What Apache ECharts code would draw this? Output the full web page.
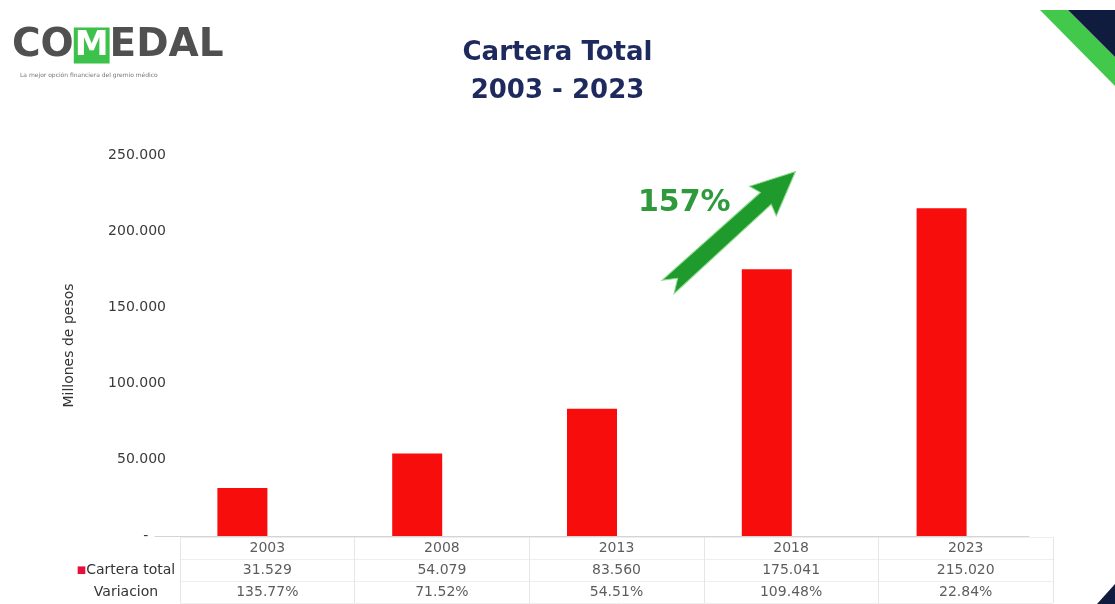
<!DOCTYPE html>
<html>
<head>
<meta charset="utf-8">
<script src="https://cdn.jsdelivr.net/npm/echarts@6/dist/echarts.min.js"></script>
<style>
html,body{margin:0;padding:0;background:#ffffff;}
#chart{width:1115px;height:604px;}
</style>
</head>
<body>
<div id="chart"></div>
<script>
const years = ['2003', '2008', '2013', '2018', '2023'];
const cartera = [31529, 54079, 83560, 175041, 215020];
const variacion = [135.77, 71.52, 54.51, 109.48, 22.84];
const rowLabels = ['', 'Cartera total', 'Variacion'];
const yMax = 250000;
const yStep = 50000;
const titleText = 'Cartera Total\n2003 - 2023';
const growthText = '157%';
const yName = 'Millones de pesos';

const fmt = n => String(n).replace(/\B(?=(\d{3})+(?!\d))/g, '.');
const FONT = 'DejaVu Sans';

const tableData = [];
years.forEach((y, i) => {
  tableData.push({ name: y, value: [i, 0] });
  tableData.push({ name: fmt(cartera[i]), value: [i, 1] });
  tableData.push({ name: variacion[i].toFixed(2) + '%', value: [i, 2] });
});

// arrow geometry (local, pointing along +x)
const L = 172;
const arrowPts = [[0,-9],[L-40,-8],[L-44,-20],[L,0],[L-44,20],[L-40,8],[0,9],[13,0]];

const chart = echarts.init(document.getElementById('chart'), null, { renderer: 'canvas' });
chart.setOption({
  animation: false,
  backgroundColor: '#ffffff',
  title: {
    text: titleText,
    left: 'center',
    top: 29,
    textStyle: { fontFamily: FONT, fontSize: 26, fontWeight: 'bold', color: '#1e2a5e', lineHeight: 38 }
  },
  grid: [
    { left: 155, right: 86, top: 155, height: 381 },
    { left: 180, right: 62, top: 537, height: 66 }
  ],
  xAxis: [
    {
      type: 'category', gridIndex: 0, data: years,
      axisLine: { lineStyle: { color: '#d4d4d4' } },
      axisTick: { show: false }, axisLabel: { show: false }
    },
    {
      type: 'category', gridIndex: 1, data: years, position: 'top',
      axisLine: { show: false },
      axisTick: { show: false }, axisLabel: { show: false },
      splitLine: { show: true, lineStyle: { color: '#e6e6e6' } }
    }
  ],
  yAxis: [
    {
      type: 'value', gridIndex: 0, min: 0, max: yMax, interval: yStep,
      splitLine: { show: false }, axisLine: { show: false }, axisTick: { show: false },
      axisLabel: {
        margin: -11, fontFamily: FONT, fontSize: 14, color: '#3a3a3a',
        formatter: v => v === 0 ? '-    ' : fmt(v)
      },
      name: yName, nameLocation: 'middle', nameRotate: 90, nameGap: 79,
      nameTextStyle: { fontFamily: FONT, fontSize: 14, color: '#333' }
    },
    {
      type: 'category', gridIndex: 1, data: rowLabels, inverse: true,
      axisLine: { show: false }, axisTick: { show: false },
      splitLine: { show: true, lineStyle: { color: '#eeeeee' } },
      axisLabel: {
        align: 'center', margin: 54, fontFamily: FONT, fontSize: 14, color: '#333',
        formatter: v => v === 'Cartera total' ? '{m|■}' + v : v,
        rich: { m: { color: '#e8103a', fontSize: 10, fontFamily: FONT } }
      }
    }
  ],
  series: [
    {
      type: 'bar', xAxisIndex: 0, yAxisIndex: 0, data: cartera, barWidth: 50,
      itemStyle: { color: '#f80d0d' }, silent: true
    },
    {
      type: 'scatter', xAxisIndex: 1, yAxisIndex: 1, data: tableData,
      symbolSize: 1, itemStyle: { color: 'rgba(0,0,0,0)' }, silent: true,
      label: { show: true, position: 'inside', formatter: '{b}', fontFamily: FONT, fontSize: 14, color: '#333' }
    }
  ],
  graphic: [
    {
      type: 'text', left: 12, top: 26,
      style: {
        text: 'CO{m|M}EDAL', fontFamily: FONT, fontSize: 39, fontWeight: 'bold', fill: '#505050',
        rich: { m: { fontFamily: FONT, fontSize: 34, fontWeight: 'bold', fill: '#ffffff', backgroundColor: '#3cc24a', padding: [2, 1, 0, 1] } }
      }
    },
    {
      type: 'text', left: 20, top: 72,
      style: { text: 'La mejor opción financiera del gremio médico', fontFamily: FONT, fontSize: 6, fill: '#777' }
    },
    {
      type: 'polygon', x: 668, y: 287, rotation: Math.atan2(115, 127),
      shape: { points: arrowPts },
      style: { fill: '#1f9a2c', stroke: '#8fdc8f', lineWidth: 1 }
    },
    {
      type: 'text', left: 638, top: 188,
      style: { text: growthText, fontFamily: FONT, fontSize: 30, fontWeight: 'bold', fill: '#2f9a3c' }
    },
    {
      type: 'polygon', shape: { points: [[1040, 10], [1068, 10], [1115, 57], [1115, 86]] },
      style: { fill: '#42c84a' }
    },
    {
      type: 'polygon', shape: { points: [[1068, 10], [1115, 10], [1115, 57]] },
      style: { fill: '#101c3e' }
    },
    {
      type: 'polygon', shape: { points: [[1115, 584], [1115, 604], [1097, 604]] },
      style: { fill: '#101c3e' }
    }
  ]
});
</script>
</body>
</html>
